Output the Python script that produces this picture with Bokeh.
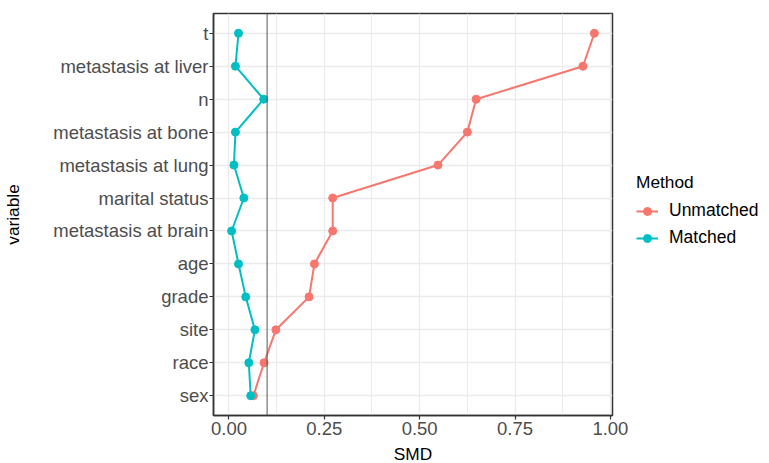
from bokeh.plotting import figure
from bokeh.models import Span, Legend, LegendItem, FixedTicker, Range1d, FactorRange, NumeralTickFormatter
from bokeh.embed import file_html
from bokeh.resources import INLINE

# ---- data (bottom to top) ----
variables = ["sex", "race", "site", "grade", "age", "metastasis at brain",
             "marital status", "metastasis at lung", "metastasis at bone",
             "n", "metastasis at liver", "t"]
smd_unmatched = [0.064, 0.092, 0.123, 0.210, 0.224, 0.272,
                 0.272, 0.548, 0.625, 0.648, 0.928, 0.958]
smd_matched = [0.057, 0.052, 0.068, 0.044, 0.025, 0.007,
               0.039, 0.013, 0.017, 0.091, 0.017, 0.025]
methods = ["Unmatched", "Matched"]
method_colors = ["#F8766D", "#00BFC4"]
x_ticks = [0.0, 0.25, 0.5, 0.75, 1.0]
x_minor_ticks = [0.125, 0.375, 0.625, 0.875]
threshold = 0.1

FONT = "Liberation Sans"

xmin = min(smd_unmatched + smd_matched)
xmax = max(smd_unmatched + smd_matched)
pad = 0.05 * (xmax - xmin)

p = figure(frame_width=399, frame_height=402,
           x_range=Range1d(xmin - pad, xmax + pad),
           y_range=FactorRange(factors=variables, range_padding=0.1,
                               range_padding_units="absolute"),
           output_backend="svg", toolbar_location=None,
           min_border_left=210, min_border_right=144,
           min_border_top=13, min_border_bottom=46)

p.background_fill_color = "white"
p.border_fill_color = "white"
p.outline_line_color = "#333333"
p.outline_line_width = 1.5

# grids
p.xaxis.ticker = FixedTicker(ticks=x_ticks, minor_ticks=x_minor_ticks)
p.xgrid.grid_line_color = "#EBEBEB"
p.xgrid.grid_line_width = 1.3
p.xgrid.minor_grid_line_color = "#EBEBEB"
p.xgrid.minor_grid_line_width = 1.1
p.ygrid.grid_line_color = "#EBEBEB"
p.ygrid.grid_line_width = 1.3

# axes
for ax in (p.xaxis[0], p.yaxis[0]):
    ax.axis_line_color = "#333333"
    ax.axis_line_width = 1.5
    ax.major_tick_line_color = "#333333"
    ax.major_tick_line_width = 1.2
    ax.major_tick_out = 4
    ax.major_tick_in = 0
    ax.minor_tick_line_color = None
    ax.major_label_text_font = FONT
    ax.major_label_text_font_size = "18.5px"
    ax.major_label_text_color = "#4D4D4D"
    ax.major_label_standoff = 1
    ax.axis_label_text_font = FONT
    ax.axis_label_text_font_size = "17.3px"
    ax.axis_label_text_font_style = "normal"
    ax.axis_label_text_color = "black"

p.xaxis.formatter = NumeralTickFormatter(format="0.00")
p.xaxis.axis_label = "SMD"
p.xaxis.axis_label_standoff = 6
p.xaxis.major_label_standoff = 2
p.yaxis.axis_label = "variable"
p.yaxis.axis_label_standoff = 27

# threshold line
p.add_layout(Span(location=threshold, dimension="height",
                  line_color="#555555", line_width=1))

items = []
for name, col, vals in zip(methods, method_colors, [smd_unmatched, smd_matched]):
    l = p.line(vals, variables, line_color=col, line_width=2)
    s = p.scatter(vals, variables, size=8, fill_color=col, line_color=col)
    items.append(LegendItem(label=name, renderers=[l, s]))

legend = Legend(items=items, title="Method",
                location=(24, 167),
                title_text_font=FONT, title_text_font_size="17.3px",
                title_text_font_style="normal", title_text_color="black",
                title_standoff=7,
                label_text_font=FONT, label_text_font_size="17.5px",
                label_text_color="black",
                glyph_width=22, glyph_height=20, label_height=20,
                label_standoff=11, spacing=6, padding=0, margin=0,
                border_line_color=None, background_fill_alpha=0)
p.add_layout(legend, "right")

open("out.html", "w").write(file_html(p, INLINE))
